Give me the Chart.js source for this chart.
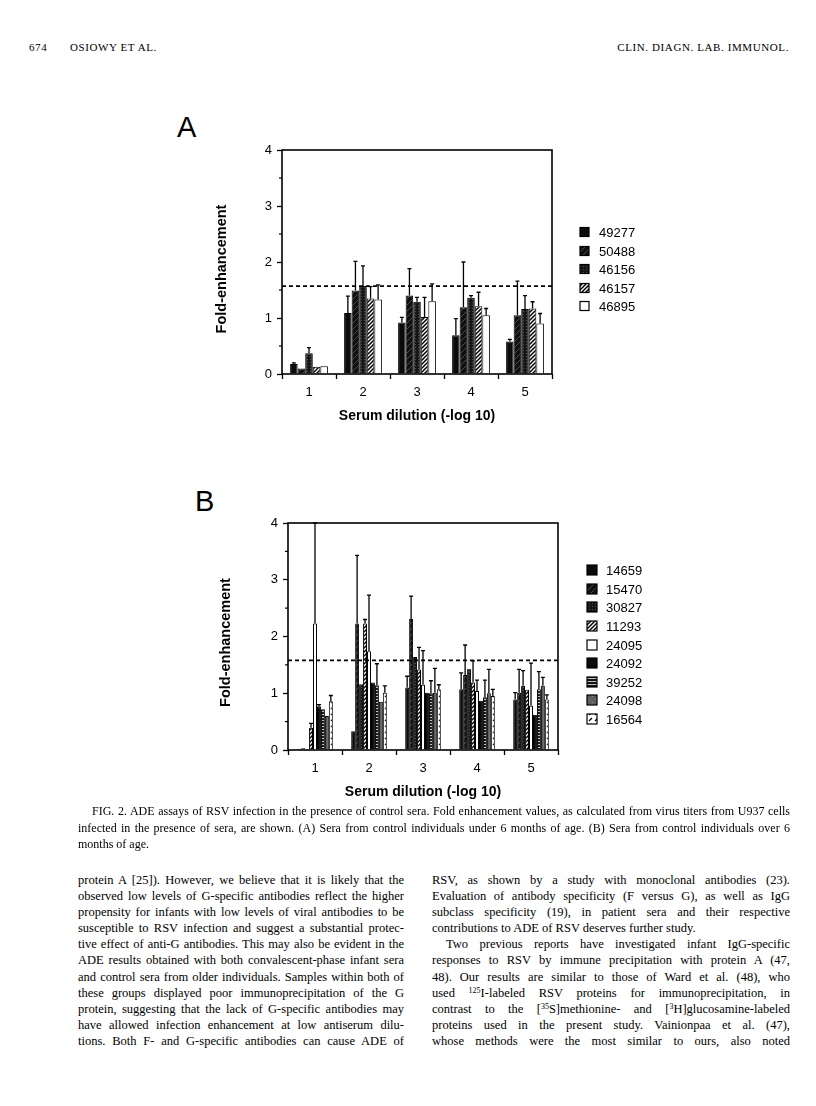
<!DOCTYPE html>
<html>
<head>
<meta charset="utf-8">
<script src="https://cdn.jsdelivr.net/npm/chart.js@4.4.1/dist/chart.umd.min.js"></script>
<style>
  html, body { margin: 0; padding: 0; background: #fff; }
  body { width: 816px; height: 1106px; position: relative; overflow: hidden; color: #000; }
  .serif { font-family: "Liberation Serif", "Times New Roman", serif; }
  .abs { position: absolute; white-space: nowrap; }
  .hdr { font-size: 11px; letter-spacing: 0.6px; top: 41px; }
  .panel { font-family: "Liberation Sans", Arial, sans-serif; font-size: 29px; }
  .j { text-align: justify; text-align-last: justify; white-space: nowrap; }
  .n { white-space: nowrap; }
  .cap { font-size: 12px; line-height: 16.5px; }
  .body { font-size: 12.5px; line-height: 16.1px; }
  sup { font-size: 8px; line-height: 0; vertical-align: 4px; }
  canvas { position: absolute; }
</style>
</head>
<body>
<div class="abs serif hdr" style="left:29px;">674</div>
<div class="abs serif hdr" style="left:70px;">OSIOWY ET AL.</div>
<div class="abs serif hdr" style="right:27px;">CLIN. DIAGN. LAB. IMMUNOL.</div>

<div class="abs panel" style="left:177px; top:111px;">A</div>
<div class="abs panel" style="left:195px; top:485px;">B</div>

<canvas id="chartA" width="610" height="340" style="left:150px; top:100px; width:610px; height:340px;"></canvas>
<canvas id="chartB" width="610" height="360" style="left:150px; top:470px; width:610px; height:360px;"></canvas>

<div class="serif cap" style="position:absolute; left:78px; top:803px; width:712px;">
  <div class="j" style="padding-left:14px;">FIG. 2. ADE assays of RSV infection in the presence of control sera. Fold enhancement values, as calculated from virus titers from U937 cells</div>
  <div class="j">infected in the presence of sera, are shown. (A) Sera from control individuals under 6 months of age. (B) Sera from control individuals over 6</div>
  <div class="n">months of age.</div>
</div>

<div class="serif body" style="position:absolute; left:78px; top:872px; width:326px;">
  <div class="j">protein A [25]). However, we believe that it is likely that the</div>
  <div class="j">observed low levels of G-specific antibodies reflect the higher</div>
  <div class="j">propensity for infants with low levels of viral antibodies to be</div>
  <div class="j">susceptible to RSV infection and suggest a substantial protec-</div>
  <div class="j">tive effect of anti-G antibodies. This may also be evident in the</div>
  <div class="j">ADE results obtained with both convalescent-phase infant sera</div>
  <div class="j">and control sera from older individuals. Samples within both of</div>
  <div class="j">these groups displayed poor immunoprecipitation of the G</div>
  <div class="j">protein, suggesting that the lack of G-specific antibodies may</div>
  <div class="j">have allowed infection enhancement at low antiserum dilu-</div>
  <div class="j">tions. Both F- and G-specific antibodies can cause ADE of</div>
</div>

<div class="serif body" style="position:absolute; left:432px; top:872px; width:358px;">
  <div class="j">RSV, as shown by a study with monoclonal antibodies (23).</div>
  <div class="j">Evaluation of antibody specificity (F versus G), as well as IgG</div>
  <div class="j">subclass specificity (19), in patient sera and their respective</div>
  <div class="n">contributions to ADE of RSV deserves further study.</div>
  <div class="j" style="padding-left:14px;">Two previous reports have investigated infant IgG-specific</div>
  <div class="j">responses to RSV by immune precipitation with protein A (47,</div>
  <div class="j">48). Our results are similar to those of Ward et al. (48), who</div>
  <div class="j">used <sup>125</sup>I-labeled RSV proteins for immunoprecipitation, in</div>
  <div class="j">contrast to the [<sup>35</sup>S]methionine- and [<sup>3</sup>H]glucosamine-labeled</div>
  <div class="j">proteins used in the present study. Vainionpaa et al. (47),</div>
  <div class="j">whose methods were the most similar to ours, also noted</div>
</div>

<script>
// ---------------- DATA ----------------
const categories = ['1', '2', '3', '4', '5'];
const yTickValues = [0, 1, 2, 3, 4];
const xAxisTitle = 'Serum dilution (-log 10)';
const yAxisTitle = 'Fold-enhancement';

// Panel A: sera from control individuals under 6 months
const seriesA = ['49277', '50488', '46156', '46157', '46895'];
const a49277    = [0.18, 1.09, 0.92, 0.69, 0.58];
const a49277Err = [0.20, 1.39, 1.01, 0.99, 0.62];
const a50488    = [0.10, 1.49, 1.40, 1.19, 1.05];
const a50488Err = [null, 2.01, 1.88, 2.00, 1.66];
const a46156    = [0.37, 1.57, 1.29, 1.36, 1.16];
const a46156Err = [0.47, 1.93, 1.37, 1.40, 1.40];
const a46157    = [0.13, 1.35, 1.02, 1.21, 1.17];
const a46157Err = [null, 1.56, 1.37, 1.46, 1.29];
const a46895    = [0.14, 1.33, 1.30, 1.05, 0.90];
const a46895Err = [null, 1.59, 1.61, 1.17, 1.08];
const thresholdA = 1.57;

// Panel B: sera from control individuals over 6 months
const seriesB = ['14659', '15470', '30827', '11293', '24095', '24092', '39252', '24098', '16564'];
const b14659    = [0.02, 0.33, 1.10, 1.07, 0.89];
const b14659Err = [null, null, 1.30, 1.36, 1.01];
const b15470    = [0.03, 2.23, 2.31, 1.32, 1.01];
const b15470Err = [null, 3.43, 2.71, 1.85, 1.42];
const b30827    = [0.01, 1.16, 1.64, 1.40, 1.13];
const b30827Err = [null, null, null, 1.41, 1.40];
const b11293    = [0.39, 2.23, 1.42, 1.19, 1.06];
const b11293Err = [0.47, 2.30, 1.81, 1.57, null];
const b24095    = [2.23, 1.74, 1.15, 1.04, 0.78];
const b24095Err = [4.00, 2.73, 1.75, 1.23, 1.53];
const b24092    = [0.77, 1.19, 1.01, 0.87, 0.62];
const b24092Err = [0.80, null, null, null, null];
const b39252    = [0.72, 1.14, 1.00, 0.93, 1.07];
const b39252Err = [null, 1.52, 1.22, 1.23, 1.38];
const b24098    = [0.60, 0.85, 1.01, 1.00, 1.13];
const b24098Err = [null, null, 1.44, 1.42, 1.28];
const b16564    = [0.86, 1.01, 1.07, 0.95, 0.89];
const b16564Err = [0.96, 1.13, 1.15, 1.07, 0.97];
const thresholdB = 1.58;

// ---------------- FILL PATTERNS ----------------
function makePattern(kind) {
  const s = kind === 'hatch' ? 4 : 6;
  const c = document.createElement('canvas');
  c.width = s; c.height = s;
  const g = c.getContext('2d');
  const diag = (color, w) => {
    g.strokeStyle = color; g.lineWidth = w; g.lineCap = 'square';
    g.beginPath();
    g.moveTo(-1, s + 1); g.lineTo(s + 1, -1);
    g.moveTo(-1, 1); g.lineTo(1, -1);
    g.moveTo(s - 1, s + 1); g.lineTo(s + 1, s - 1);
    g.stroke();
  };
  switch (kind) {
    case 'black':
      g.fillStyle = '#0b0b0b'; g.fillRect(0, 0, s, s); break;
    case 'darkDiag':
      g.fillStyle = '#101010'; g.fillRect(0, 0, s, s); diag('#4a4a4a', 1); break;
    case 'darkDots':
      g.fillStyle = '#161616'; g.fillRect(0, 0, s, s);
      g.fillStyle = '#4f4f4f'; g.fillRect(1, 1, 1, 1); g.fillRect(4, 4, 1, 1); g.fillRect(1, 4, 1, 1); g.fillRect(4, 1, 1, 1); break;
    case 'hatch':
      g.fillStyle = '#ffffff'; g.fillRect(0, 0, s, s); diag('#000000', 1.5); break;
    case 'white':
      g.fillStyle = '#ffffff'; g.fillRect(0, 0, s, s); break;
    case 'hlines':
      g.fillStyle = '#141414'; g.fillRect(0, 0, s, s);
      g.fillStyle = '#bdbdbd'; g.fillRect(0, 1, s, 1); g.fillRect(0, 4, s, 1); break;
    case 'gray':
      g.fillStyle = '#5e5e5e'; g.fillRect(0, 0, s, s);
      g.fillStyle = '#8c8c8c'; g.fillRect(1, 1, 1, 1); g.fillRect(4, 4, 1, 1); break;
    case 'dashDiag':
      g.fillStyle = '#ffffff'; g.fillRect(0, 0, s, s);
      g.strokeStyle = '#000'; g.lineWidth = 1.3;
      g.beginPath(); g.moveTo(1, 5); g.lineTo(4, 2); g.stroke(); break;
  }
  return g.createPattern(c, 'repeat');
}

// ---------------- PLUGINS ----------------
const errorBars = {
  id: 'errorBars',
  afterDatasetsDraw(chart) {
    const {ctx, chartArea: a} = chart;
    const yScale = chart.scales.y;
    ctx.save();
    ctx.beginPath(); ctx.rect(a.left - 2, a.top - 1, a.right - a.left + 4, a.bottom - a.top + 2); ctx.clip();
    ctx.strokeStyle = '#000'; ctx.lineWidth = 1.3;
    chart.data.datasets.forEach((ds, i) => {
      const meta = chart.getDatasetMeta(i);
      meta.data.forEach((bar, j) => {
        const e = ds.errTop[j];
        if (e == null) return;
        const ye = yScale.getPixelForValue(e);
        ctx.beginPath();
        ctx.moveTo(bar.x, bar.y); ctx.lineTo(bar.x, ye);
        ctx.moveTo(bar.x - 2, ye); ctx.lineTo(bar.x + 2, ye);
        ctx.stroke();
      });
    });
    ctx.restore();
  }
};

const refLine = {
  id: 'refLine',
  afterDatasetsDraw(chart, args, opts) {
    const {ctx, chartArea: a} = chart;
    const y = chart.scales.y.getPixelForValue(opts.value);
    ctx.save();
    ctx.strokeStyle = '#000'; ctx.lineWidth = 1.6; ctx.setLineDash([4, 3]);
    ctx.beginPath(); ctx.moveTo(a.left, y); ctx.lineTo(a.right, y); ctx.stroke();
    ctx.restore();
  }
};

const frame = {
  id: 'frame',
  afterDraw(chart, args, opts) {
    const {ctx, chartArea: a} = chart;
    const yScale = chart.scales.y;
    ctx.save();
    ctx.strokeStyle = '#000'; ctx.lineWidth = 1.6;
    ctx.strokeRect(a.left, a.top, a.right - a.left, a.bottom - a.top);
    ctx.lineWidth = 1.2;
    for (let v = 0.5; v < 4; v += 1) {
      const y = yScale.getPixelForValue(v);
      ctx.beginPath(); ctx.moveTo(a.left - 3, y); ctx.lineTo(a.left, y); ctx.stroke();
    }
    ctx.fillStyle = '#000';
    ctx.font = 'bold 14.5px "Liberation Sans", Arial, sans-serif';
    ctx.textAlign = 'center'; ctx.textBaseline = 'middle';
    ctx.translate(a.left - opts.titleDx, (a.top + a.bottom) / 2 + opts.titleDy);
    ctx.rotate(-Math.PI / 2);
    ctx.fillText(yAxisTitle, 0, 0);
    ctx.restore();
  }
};

const sideLegend = {
  id: 'sideLegend',
  afterDraw(chart, args, opts) {
    const {ctx, chartArea: a} = chart;
    const ds = chart.data.datasets;
    const cy = (a.top + a.bottom) / 2 + opts.dy;
    const y0 = cy - (ds.length - 1) / 2 * opts.spacing;
    ctx.save();
    ctx.font = '13px "Liberation Sans", Arial, sans-serif';
    ctx.textBaseline = 'middle'; ctx.textAlign = 'left';
    ds.forEach((d, i) => {
      const y = Math.round(y0 + i * opts.spacing);
      const x = Math.round(a.right + opts.dx);
      ctx.fillStyle = d.backgroundColor;
      ctx.fillRect(x, y - opts.box / 2, opts.box, opts.box);
      ctx.strokeStyle = '#000'; ctx.lineWidth = 1.2;
      ctx.strokeRect(x, y - opts.box / 2, opts.box, opts.box);
      ctx.fillStyle = '#000';
      ctx.fillText(d.label, x + opts.textDx, y + 1);
    });
    ctx.restore();
  }
};

// ---------------- CHART BUILDER ----------------
function buildChart(id, labels, values, errs, kinds, o) {
  const datasets = labels.map((lab, i) => ({
    label: lab,
    data: values[i],
    errTop: errs[i],
    backgroundColor: makePattern(kinds[i]),
    borderColor: '#000',
    borderWidth: 1,
    barPercentage: 1.0,
    categoryPercentage: o.catPct
  }));
  return new Chart(document.getElementById(id), {
    type: 'bar',
    data: {labels: categories, datasets},
    options: {
      responsive: false,
      animation: false,
      devicePixelRatio: 1,
      layout: {padding: {left: 0, top: o.top, right: o.right, bottom: o.bottom}},
      plugins: {
        legend: {display: false},
        tooltip: {enabled: false},
        refLine: {value: o.threshold},
        frame: {titleDx: o.titleDx, titleDy: o.titleDy},
        sideLegend: {dx: o.legDx, dy: o.legDy, spacing: o.legSpacing, box: o.legBox, textDx: o.legTextDx}
      },
      scales: {
        x: {
          offset: true,
          border: {display: false},
          grid: {display: true, offset: true, drawOnChartArea: false, tickLength: 5, tickWidth: 1.3, tickColor: '#000'},
          ticks: {color: '#000', font: {size: 13}, padding: 6, maxRotation: 0},
          title: {display: true, text: xAxisTitle, color: '#000', font: {size: 14, weight: 'bold'}, padding: {top: 0, bottom: o.xTitlePad}},
          afterFit: s => { s.height = o.xHeight; }
        },
        y: {
          min: 0, max: 4,
          border: {display: false},
          grid: {display: true, drawOnChartArea: false, tickLength: 5, tickWidth: 1.3,
                 tickColor: c => (yTickValues.includes(c.tick.value) ? '#000' : 'rgba(0,0,0,0)')},
          ticks: {stepSize: 1, autoSkip: false, color: '#000', font: {size: 13}, padding: 5,
                  callback: v => (yTickValues.includes(v) ? String(v) : '')},
          afterFit: s => { s.width = o.yWidth; }
        }
      }
    },
    plugins: [errorBars, refLine, frame, sideLegend]
  });
}

Chart.defaults.font.family = '"Liberation Sans", Arial, sans-serif';
Chart.defaults.color = '#000';

buildChart('chartA', seriesA,
  [a49277, a50488, a46156, a46157, a46895],
  [a49277Err, a50488Err, a46156Err, a46157Err, a46895Err],
  ['black', 'darkDiag', 'darkDots', 'hatch', 'white'],
  {catPct: 0.70, top: 50, right: 208, bottom: 6, xHeight: 60, yWidth: 132, xTitlePad: 9.6,
   threshold: thresholdA, titleDx: 60, titleDy: 7,
   legDx: 28, legDy: 7, legSpacing: 18.5, legBox: 9, legTextDx: 19});

buildChart('chartB', seriesB,
  [b14659, b15470, b30827, b11293, b24095, b24092, b39252, b24098, b16564],
  [b14659Err, b15470Err, b30827Err, b11293Err, b24095Err, b24092Err, b39252Err, b24098Err, b16564Err],
  ['black', 'darkDiag', 'darkDots', 'hatch', 'white', 'black', 'hlines', 'gray', 'dashDiag'],
  {catPct: 0.66, top: 53, right: 202, bottom: 20, xHeight: 60, yWidth: 138, xTitlePad: 9.6,
   threshold: thresholdB, titleDx: 62, titleDy: 6,
   legDx: 29, legDy: 8, legSpacing: 18.6, legBox: 10, legTextDx: 19});
</script>
</body>
</html>
